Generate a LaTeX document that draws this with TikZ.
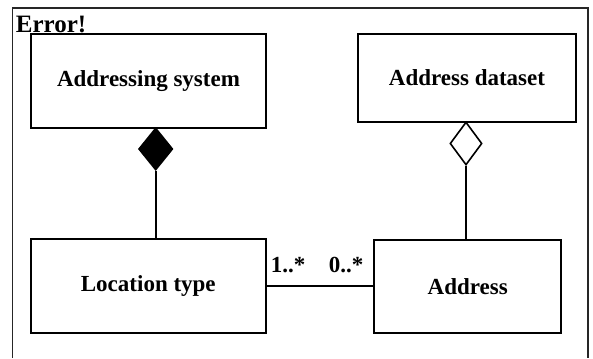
\documentclass[tikz,border=0pt]{standalone}
\usepackage{fontspec}
\setmainfont{Liberation Serif}
\usetikzlibrary{shapes.geometric,positioning}

\tikzset{
  classbox/.style={draw, line width=1pt, fill=white, inner sep=0pt,
    font=\fontsize{11.5}{13}\selectfont\bfseries},
  mult/.style={inner sep=0pt, font=\fontsize{11.5}{13}\selectfont\bfseries},
  assoc/.style={line width=1pt},
  composite/.style={diamond, draw, line width=0.8pt, fill=black, inner sep=0pt,
    minimum width=17pt, minimum height=21pt},
  shared/.style={diamond, draw, line width=0.8pt, fill=white, inner sep=0pt,
    minimum width=16pt, minimum height=21.5pt}
}

\begin{document}
\begin{tikzpicture}[x=0.5pt,y=-0.5pt]
  \useasboundingbox (0,0) rectangle (593,358);

  % Frame (bottom edge runs off the page)
  \draw[line width=0.6pt, black!85] (12.5,358) -- (12.5,8) -- (588,8) -- (588,358);

  % Error text
  \node[inner sep=0pt, anchor=base west, font=\fontsize{12.5}{14}\selectfont\bfseries]
    (err) at (15.5,33) {Error!};

  % Classes
  \node[classbox, minimum width=117.5pt, minimum height=47pt] (sys) at (148.5,81) {Addressing system};
  \node[classbox, minimum width=109pt, minimum height=44pt] (dataset) at (467,78) {Address dataset};
  \node[classbox, minimum width=117.5pt, minimum height=47pt] (loctype) at (148.3,286.3) {Location type};
  \node[classbox, minimum width=93.5pt, minimum height=46.8pt] (addr) at (467.7,286.3) {Address};

  % Diamonds
  \node[composite] (comp) at (155.7,149) {};
  \node[shared] (aggr) at (466,143.5) {};

  % Connectors
  \draw[assoc] (comp.south) -- (comp.south |- loctype.north);
  \draw[assoc] (aggr.south) -- (aggr.south |- addr.north);
  \draw[assoc] (loctype.east) -- (addr.west);

  % Multiplicities
  \node[mult] (m1) at (288,265.5) {1..*};
  \node[mult] (m0) at (346,265.5) {0..*};
\end{tikzpicture}
\end{document}
